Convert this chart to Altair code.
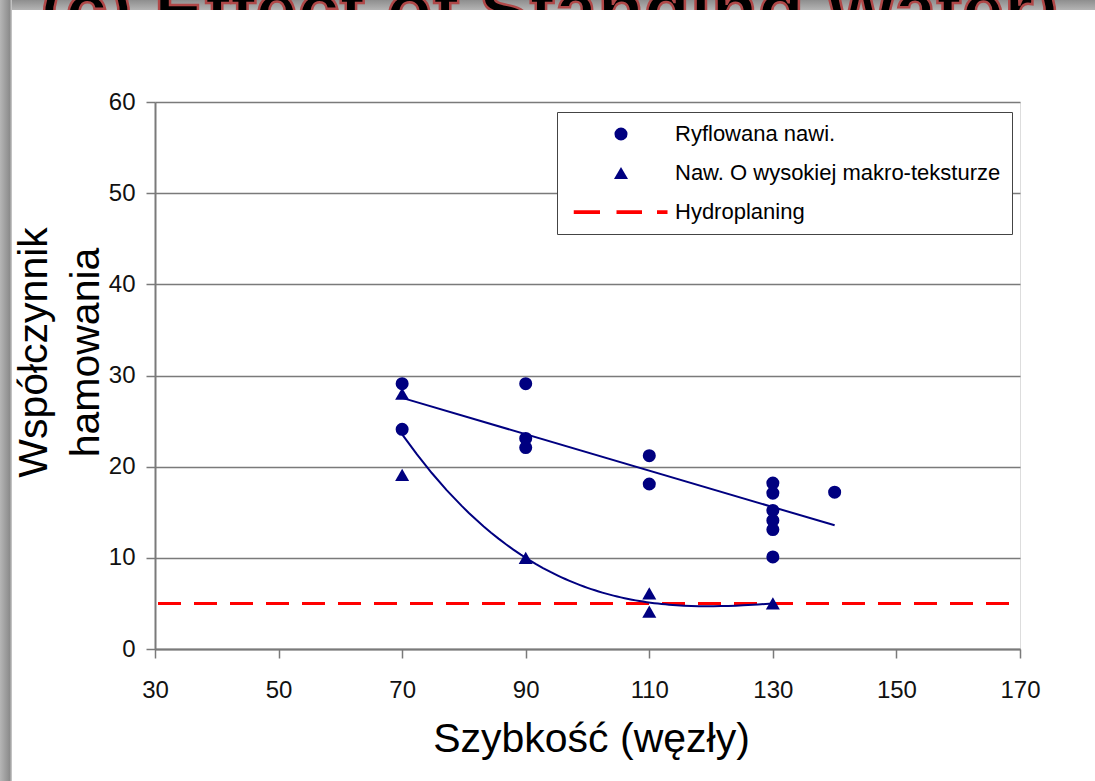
import altair as alt
import pandas as pd

# --- data ---
RYF_X = [70, 70, 90, 90, 90, 110, 110, 130, 130, 130, 130, 130, 130, 140]
RYF_Y = [29.1, 24.1, 29.1, 23.1, 22.1, 21.2, 18.1, 18.2, 17.1, 15.2, 14.1, 13.1, 10.1, 17.2]
MAK_X = [70, 70, 90, 110, 110, 130]
MAK_Y = [28.0, 19.1, 10.0, 6.1, 4.1, 5.0]
HYDRO = [5.0]
SERIES = ["Ryflowana nawi.", "Naw. O wysokiej makro-teksturze", "Hydroplaning"]
X_TICKS = [30, 50, 70, 90, 110, 130, 150, 170]
Y_TICKS = [0, 10, 20, 30, 40, 50, 60]
SLIDE_TITLE = "(c) Effect of Standing Water)"

FONT = "Liberation Sans"
NAVY = "#000080"
GRAY = "#7a7a7a"

pts = pd.DataFrame({
    "x": RYF_X + MAK_X,
    "y": RYF_Y + MAK_Y,
    "seria": [SERIES[0]] * len(RYF_X) + [SERIES[1]] * len(MAK_X),
})
hydro = pd.DataFrame({"y": HYDRO})
one = pd.DataFrame({"a": [0]})

xscale = alt.Scale(domain=[30, 170], nice=False, zero=False)
yscale = alt.Scale(domain=[0, 60], nice=False)

xaxis = alt.Axis(
    values=X_TICKS, grid=False, tickSize=9, tickColor=GRAY, tickWidth=1.5,
    domainColor=GRAY, domainWidth=2, labelFontSize=24, labelFont=FONT,
    labelColor="#111111", labelPadding=20, labelFlush=False,
    title="Szybkość (węzły)", titleFont=FONT, titleFontSize=41,
    titleFontWeight="normal", titleColor="black", titleX=436, titleY=102,
    titleBaseline="alphabetic", titleAlign="center",
)
yaxis = alt.Axis(
    values=Y_TICKS, grid=True, gridColor=GRAY, gridWidth=1.6,
    tickSize=9, tickColor=GRAY, tickWidth=1.5, domainColor=GRAY, domainWidth=2,
    labelFontSize=24, labelFont=FONT, labelColor="#111111", labelPadding=11,
    title=["Współczynnik", "hamowania"], titleFont=FONT, titleFontSize=41,
    titleFontWeight="normal", titleColor="black", titleAngle=270,
    titleX=-109, titleY=250, titleBaseline="alphabetic", titleAlign="center",
    titleLineHeight=52,
)

def X():
    return alt.X("x:Q", scale=xscale, axis=xaxis)

def Y():
    return alt.Y("y:Q", scale=yscale, axis=yaxis)

DASH_PATH = ("M-6.3,-0.25H-2.8V0.25H-6.3Z "
             "M-0.6,-0.25H2.8V0.25H-0.6Z "
             "M4.8,-0.25H6.2V0.25H4.8Z")

legend = alt.Legend(
    title=None, orient="none", legendX=402, legendY=10, padding=11,
    symbolOffset=42, labelOffset=43, rowPadding=17, labelLimit=600,
    labelFont=FONT, labelFontSize=22, labelColor="black",
    fillColor="white", strokeColor="#444444", symbolStrokeWidth=0,
)

points = alt.Chart(pts).mark_point(filled=True, opacity=1).encode(
    x=X(), y=Y(),
    shape=alt.Shape("seria:N", scale=alt.Scale(domain=SERIES, range=["circle", "triangle-up", DASH_PATH]), legend=legend),
    color=alt.Color("seria:N", scale=alt.Scale(domain=SERIES, range=[NAVY, NAVY, "#ff0000"]), legend=legend),
    size=alt.Size("seria:N", scale=alt.Scale(domain=SERIES, range=[170, 225, 170]), legend=legend),
)

trend_lin = alt.Chart(pts).transform_filter(
    alt.datum.seria == SERIES[0]
).transform_regression("x", "y", method="linear").mark_line(
    color=NAVY, strokeWidth=2
).encode(x=X(), y=Y())

trend_poly = alt.Chart(pts).transform_filter(
    alt.datum.seria == SERIES[1]
).transform_regression("x", "y", method="poly", order=3).mark_line(
    color=NAVY, strokeWidth=2
).encode(x=X(), y=Y())

hydro_rule = alt.Chart(hydro).mark_rule(
    color="#ff0000", strokeWidth=3, strokeDash=[23, 13], strokeDashOffset=25
).encode(y=Y())

# --- slide decoration around the chart ---
top_band = alt.Chart(one).mark_rect(
    color=alt.Gradient(gradient="linear", x1=0, y1=0, x2=0, y2=1,
                       stops=[alt.GradientStop(color="#8e8e8e", offset=0),
                              alt.GradientStop(color="#b4b4b4", offset=1)])
).encode(x=alt.value(-155), x2=alt.value(940), y=alt.value(-102), y2=alt.value(-92))

title_text = alt.Chart(one).mark_text(
    text=SLIDE_TITLE, font=FONT, fontSize=76, fontWeight="bold", color="black",
    stroke="#b04848", strokeWidth=2.5,
    align="left", baseline="alphabetic"
).encode(x=alt.value(-115), y=alt.value(-66))

white_cover = alt.Chart(one).mark_rect(color="white").encode(
    x=alt.value(-143), x2=alt.value(940), y=alt.value(-92), y2=alt.value(-40)
)

left_band = alt.Chart(one).mark_rect(
    color=alt.Gradient(gradient="linear", x1=0, y1=0, x2=1, y2=0,
                       stops=[alt.GradientStop(color="#b6b6b6", offset=0),
                              alt.GradientStop(color="#8c8c8c", offset=0.8),
                              alt.GradientStop(color="#d0d0d0", offset=1)])
).encode(x=alt.value(-155), x2=alt.value(-143), y=alt.value(-102), y2=alt.value(679))

chart = alt.layer(
    top_band, title_text, white_cover, left_band,
    hydro_rule, trend_lin, trend_poly, points,
).properties(
    width=865, height=547,
    autosize=alt.AutoSizeParams(type="none"),
    padding={"left": 155, "top": 102, "right": 75, "bottom": 132},
    background="white",
).configure_view(
    stroke=GRAY, strokeWidth=2
).configure(font=FONT)

chart.save("out.html", embed_options={"renderer": "svg", "actions": False})
